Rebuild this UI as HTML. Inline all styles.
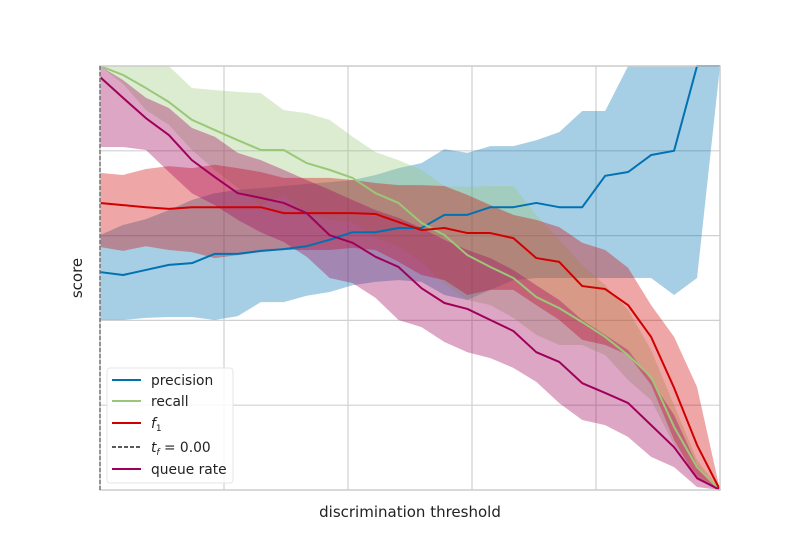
<!DOCTYPE html>
<html><head><meta charset="utf-8"><style>
body{margin:0;background:#fff;}
svg{display:block;font-family:"DejaVu Sans","Liberation Sans",sans-serif;}
</style></head><body>
<svg id="chart" width="800" height="550">
<rect x="0" y="0" width="800" height="550" fill="#fff"/>
<g id="grid"></g><g id="fills"></g><g id="lines"></g>
<rect x="100" y="66" width="620" height="424" fill="none" stroke="#cccccc" stroke-width="1.5"/>
<line x1="100" y1="66" x2="100" y2="490" stroke="#444" stroke-width="1" stroke-dasharray="4,2"/>
<text x="410" y="517" font-size="15" text-anchor="middle" fill="#222">discrimination threshold</text>
<text x="82" y="278" font-size="15" text-anchor="middle" fill="#222" transform="rotate(-90 82 278)">score</text>
<g>
<rect x="107" y="368" width="126" height="115" rx="3" fill="#fff" fill-opacity="0.85" stroke="#e6e6e6"/>
<g><line x1="112" y1="380" x2="141" y2="380" stroke="#0072b2" stroke-width="2"/><text x="151" y="385" font-size="13.8" fill="#222">precision</text></g>
<g><line x1="112" y1="401" x2="141" y2="401" stroke="#9bc878" stroke-width="2"/><text x="151" y="406" font-size="13.8" fill="#222">recall</text></g>
<g><line x1="112" y1="423" x2="141" y2="423" stroke="#d10000" stroke-width="2"/><text x="151" y="428" font-size="13.8" fill="#222" font-style="italic">f<tspan font-size="9" dy="3" font-style="normal">1</tspan></text></g>
<g><line x1="112" y1="447" x2="141" y2="447" stroke="#222" stroke-width="1.5" stroke-dasharray="4,2"/><text x="151" y="452" font-size="13.8" fill="#222"><tspan font-style="italic">t</tspan><tspan font-size="9" dy="3" font-style="italic">f</tspan><tspan dy="-3"> = 0.00</tspan></text></g>
<g><line x1="112" y1="469" x2="141" y2="469" stroke="#a0005a" stroke-width="2"/><text x="151" y="474" font-size="13.8" fill="#222">queue rate</text></g>
</g>
</svg>
<script>
const N = 28;
const px = a => a.map(y => +((490 - y) / 424).toFixed(3));
const precision = px([272,275,270,265,263,254,254,251,249,246,240,232,232,228,228,215,215,207,207,203,207,207,176,172,155,151,66,66]);
const precisionUpper = px([235,225,219,210,200,193,190,188,186,184,182,180,175,168,163,149,153,146,146,140,132,111,111,66,66,66,66,66]);
const precisionLower = px([320,320,318,317,317,320,316,302,302,296,292,285,282,280,282,295,300,290,280,278,278,278,278,278,278,295,278,66]);
const recall = px([66,75,88,102,120,130,140,150,150,163,170,178,193,203,223,235,255,267,278,297,308,322,337,355,377,427,467,490]);
const recallUpper = px([66,66,66,66,88,90,92,93,110,113,120,137,152,160,170,186,187,186,186,215,240,265,285,310,350,405,460,490]);
const recallLower = px([66,84,110,125,150,170,188,205,195,213,220,222,238,246,262,284,300,305,318,335,345,345,355,380,400,445,475,490]);
const f1 = px([203,205,207,209,207,207,207,207,213,213,213,213,214,222,230,228,233,233,238,258,262,286,289,305,337,388,445,490]);
const f1Upper = px([173,175,169,166,168,165,168,172,178,178,178,180,183,185,185,186,195,205,215,220,227,243,250,268,305,337,387,490]);
const f1Lower = px([247,251,246,250,252,258,255,252,250,250,250,248,250,262,275,280,295,290,290,305,320,340,345,355,385,440,480,490]);
const queue = px([77,98,118,135,160,177,193,198,203,213,235,243,257,267,288,303,309,320,331,352,362,383,393,403,425,447,478,490]);
const queueUpper = px([66,80,98,108,128,137,153,160,170,180,190,200,210,218,228,240,250,258,270,285,300,320,335,350,380,415,465,490]);
const queueLower = px([147,147,150,172,193,205,220,232,242,257,278,283,298,320,327,342,352,358,368,382,403,420,425,437,457,467,487,490]);
const gridTicks = [0.2,0.4,0.6,0.8];

const X0=100,X1=720,Y0=490,Y1=66;
const sx = i => X0 + (X1-X0) * i/(N-1);
const sxv = v => X0 + (X1-X0) * v;
const sy = v => Y0 - (Y0-Y1) * v;
const NS="http://www.w3.org/2000/svg";
const grid=document.getElementById('grid'), fills=document.getElementById('fills'), lines=document.getElementById('lines');
gridTicks.forEach(t=>{
  let l=document.createElementNS(NS,'line');
  l.setAttribute('x1',sxv(t));l.setAttribute('x2',sxv(t));l.setAttribute('y1',Y1);l.setAttribute('y2',Y0);
  l.setAttribute('stroke','#d0d0d0');l.setAttribute('stroke-width','1.2');
  
  
  grid.appendChild(l);
  let h=document.createElementNS(NS,'line');
  h.setAttribute('x1',X0);h.setAttribute('x2',X1);h.setAttribute('y1',sy(t));h.setAttribute('y2',sy(t));
  h.setAttribute('stroke','#d0d0d0');h.setAttribute('stroke-width','1.2');
  
  
  grid.appendChild(h);
});
const series=[
  ['precision',precision,precisionUpper,precisionLower,'#0072b2'],
  ['recall',recall,recallUpper,recallLower,'#9bc878'],
  ['f1',f1,f1Upper,f1Lower,'#d10000'],
  ['queue-rate',queue,queueUpper,queueLower,'#a0005a']
];
series.forEach(([name,vals,up,lo,col])=>{
  let pts=up.map((v,i)=>sx(i)+','+sy(v));
  for(let i=N-1;i>=0;i--) pts.push(sx(i)+','+sy(lo[i]));
  let p=document.createElementNS(NS,'polygon');
  p.setAttribute('points',pts.join(' '));
  p.setAttribute('fill',col);p.setAttribute('fill-opacity','0.35');
  
  
  fills.appendChild(p);
  let l=document.createElementNS(NS,'polyline');
  l.setAttribute('points',vals.map((v,i)=>sx(i)+','+sy(v)).join(' '));
  l.setAttribute('fill','none');l.setAttribute('stroke',col);l.setAttribute('stroke-width','2');
  l.setAttribute('stroke-linejoin','round');
  
  
  lines.appendChild(l);
});
</script>
</body></html>
